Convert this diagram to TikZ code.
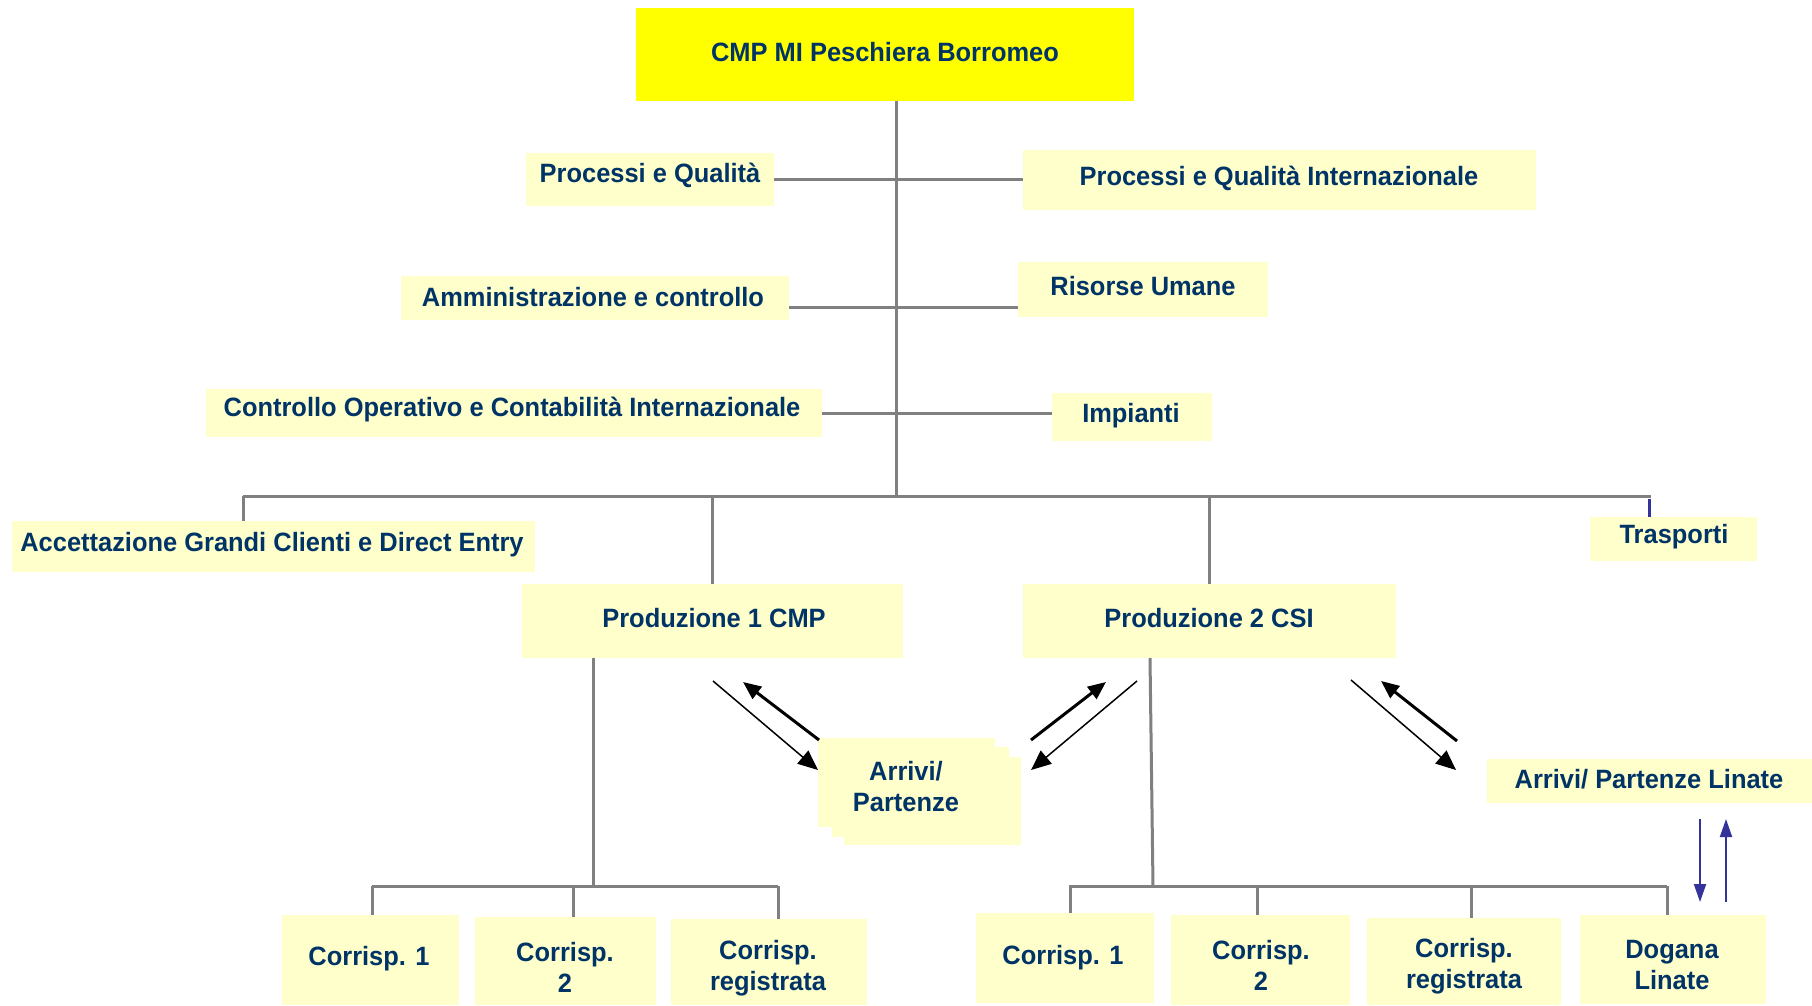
\documentclass[tikz,border=0pt]{standalone}
\usepackage{fontspec}
\setmainfont{Liberation Sans}[FakeStretch=0.96]
\usetikzlibrary{arrows.meta}
\definecolor{boxy}{HTML}{FFFFCC}
\definecolor{topy}{HTML}{FFFF00}
\definecolor{navy}{HTML}{003366}
\definecolor{gl}{HTML}{808080}
\definecolor{bl}{HTML}{333399}
\newcommand\mybox[6][boxy]{\node[box,fill=#1,minimum width={#5-#3},minimum height={#6-#4}] (#2) at (#3,#4) {};}
\begin{document}
\begin{tikzpicture}[x=1pt,y=-1pt,
 box/.style={draw=none,inner sep=0pt,outer sep=0pt,anchor=north west},
 lbl/.style={text=navy,font=\fontsize{26.5}{31}\selectfont\bfseries,inner sep=0pt,align=center,yshift=-2.5pt},
 gline/.style={draw=gl,line width=3pt},
 thinarr/.style={draw=black,line width=1.5pt,-{Triangle[length=20pt,width=17pt]}},
 thickarr/.style={draw=black,line width=3pt,-{Triangle[length=18pt,width=15pt]}},
 bluearr/.style={draw=bl,line width=2pt,-{Triangle[length=18pt,width=12pt]}},
]
\fill[white] (0,0) rectangle (1812,1006);
\useasboundingbox (0,0) rectangle (1812,1006);

% boxes
\mybox[topy]{cmp}{636}{8}{1134}{101}
\mybox{pq}{526}{153}{774}{206}
\mybox{pqi}{1023}{150}{1536}{210}
\mybox{amm}{401}{276}{789}{320}
\mybox{ru}{1018}{262}{1268}{317}
\mybox{co}{206}{389}{822}{437}
\mybox{imp}{1052}{393}{1212}{441}
\mybox{acc}{12}{521}{535}{572}
\mybox{tr}{1590}{517}{1757}{561}
\mybox{p1}{522}{584}{903}{658}
\mybox{p2}{1023}{584}{1396}{658}
\mybox{ap3}{844}{757}{1021}{845}
\mybox{ap2}{832}{747}{1009}{837}
\mybox{ap}{818}{738}{995}{827}
\mybox{apl}{1487}{759}{1812}{803}
\mybox{c11}{282}{915}{459}{1005}
\mybox{c12}{475}{917}{656}{1005}
\mybox{c13}{671}{919}{867}{1005}
\mybox{c21}{976}{913}{1154}{1003}
\mybox{c22}{1171}{915}{1350}{1005}
\mybox{c23}{1367}{918}{1561}{1005}
\mybox{dog}{1580}{915}{1766}{1004}

% labels
\node[lbl] (cmpt) at (885,50) {CMP MI Peschiera Borromeo};
\node[lbl] (pqt) at (650,173) {Processi e Qualità};
\node[lbl] (pqit) at (1279,176) {Processi e Qualità Internazionale};
\node[lbl] (ammt) at (593,295) {Amministrazione e controllo};
\node[lbl] (rut) at (1143,284) {Risorse Umane};
\node[lbl] (cot) at (512,407) {Controllo Operativo e Contabilità Internazionale};
\node[lbl] (impt) at (1131,413) {Impianti};
\node[lbl] (acct) at (272,542) {Accettazione Grandi Clienti e Direct Entry};
\node[lbl] (trt) at (1674,534) {Trasporti};
\node[lbl] (p1t) at (714,616) {Produzione 1 CMP};
\node[lbl] (p2t) at (1209,616) {Produzione 2 CSI};
\node[lbl] (apt) at (906,784) {Arrivi/\\Partenze};
\node[lbl] (aplt) at (1649,777) {Arrivi/ Partenze Linate};
\node[lbl] (c11t) at (369,956) {Corrisp. 1};
\node[lbl] (c12t) at (565,965) {Corrisp.\\2};
\node[lbl] (c13t) at (768,966) {Corrisp.\\registrata};
\node[lbl] (c21t) at (1063,955) {Corrisp. 1};
\node[lbl] (c22t) at (1261,963) {Corrisp.\\2};
\node[lbl] (c23t) at (1464,964) {Corrisp.\\registrata};
\node[lbl] (dogt) at (1672,963) {Dogana\\Linate};

% coordinates
\coordinate (bus) at (896,496);
\coordinate (busL) at (243,496);
\coordinate (busR) at (1651,496);
\coordinate (l2) at (896,307);
\coordinate (trk) at (1649,499);
\coordinate (b1) at (593,886);
\coordinate (b1L) at (372,886);
\coordinate (b1R) at (778,886);
\coordinate (t12) at (573,886);
\coordinate (p2s) at (1150,658);
\coordinate (b2) at (1153,886);
\coordinate (b2L) at (1069,886);
\coordinate (b2R) at (1667,886);
\coordinate (t21) at (1070,886);
\coordinate (t22) at (1257,886);
\coordinate (t23) at (1471,886);

% gray tree
\draw[gline] (cmp.south -| bus) -- (bus);
\draw[gline] (pq.east) -- (pq.east -| pqi.west);
\draw[gline] (amm.east |- l2) -- (ru.west |- l2);
\draw[gline] (co.east) -- (co.east -| imp.west);
\draw[gline] (busL) -- (busR);
\draw[gline] (busL) -- (busL |- acc.north);
\draw[gline] (p1.north |- bus) -- (p1.north);
\draw[gline] (p2.north |- bus) -- (p2.north);
\draw[draw=bl,line width=3pt] (trk) -- (trk |- tr.north);

\draw[gline] (p1.south -| b1) -- (b1);
\draw[gline] (b1L) -- (b1R);
\draw[gline] (b1L) -- (b1L |- c11.north);
\draw[gline] (t12) -- (t12 |- c12.north);
\draw[gline] (b1R) -- (b1R |- c13.north);

\draw[gline] (p2s) -- (b2);
\draw[gline] (b2L) -- (b2R);
\draw[gline] (t21) -- (t21 |- c21.north);
\draw[gline] (t22) -- (t22 |- c22.north);
\draw[gline] (t23) -- (t23 |- c23.north);
\draw[gline] (b2R) -- (b2R |- dog.north);

% black arrows
\coordinate (a1s) at (713,681); \coordinate (a1e) at (818,770);
\coordinate (a2s) at (819,740); \coordinate (a2e) at (743,682);
\coordinate (a3s) at (1031,740); \coordinate (a3e) at (1106,682);
\coordinate (a4s) at (1137,681); \coordinate (a4e) at (1031,770);
\coordinate (a5s) at (1351,680); \coordinate (a5e) at (1456,770);
\coordinate (a6s) at (1457,741); \coordinate (a6e) at (1381,681);
\draw[thinarr] (a1s) -- (a1e);
\draw[thickarr] (a2s) -- (a2e);
\draw[thickarr] (a3s) -- (a3e);
\draw[thinarr] (a4s) -- (a4e);
\draw[thinarr] (a5s) -- (a5e);
\draw[thickarr] (a6s) -- (a6e);

% blue arrows
\coordinate (bd1) at (1700,819); \coordinate (bd2) at (1700,902);
\coordinate (bu1) at (1726,902); \coordinate (bu2) at (1726,819);
\draw[bluearr] (bd1) -- (bd2);
\draw[bluearr] (bu1) -- (bu2);
\end{tikzpicture}
\end{document}
